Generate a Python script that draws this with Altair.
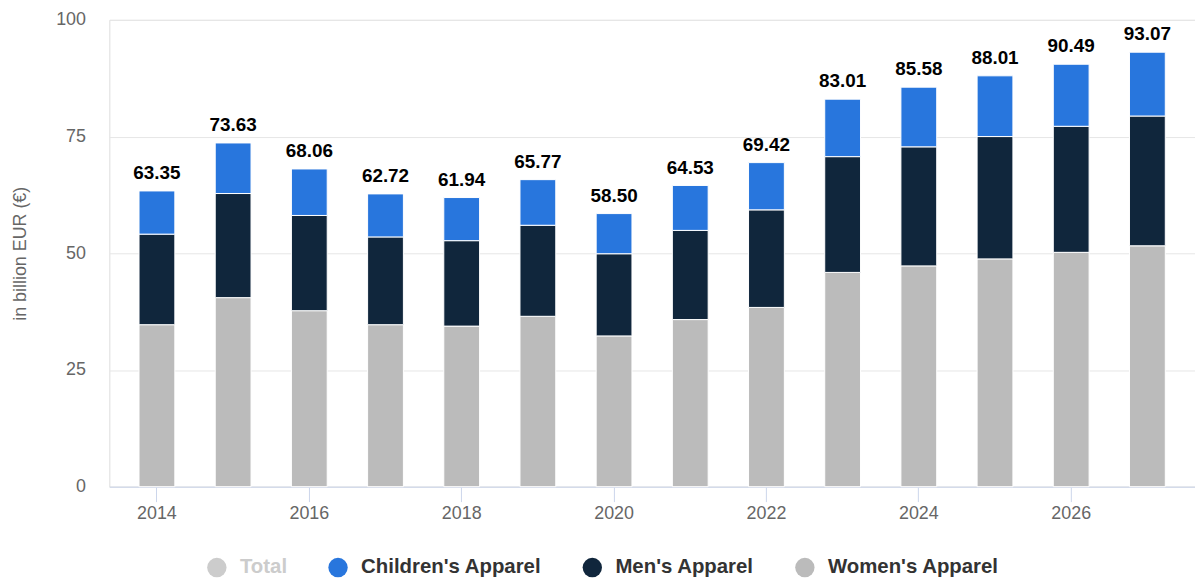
import altair as alt
import pandas as pd

years = list(range(2014, 2028))
women = [34.7, 40.5, 37.7, 34.7, 34.4, 36.5, 32.3, 35.8, 38.4, 45.9, 47.3, 48.8, 50.2, 51.6]
men = [19.4, 22.3, 20.4, 18.8, 18.3, 19.5, 17.6, 19.1, 20.9, 24.8, 25.5, 26.2, 27.0, 27.8]
children = [9.25, 10.83, 9.96, 9.22, 9.24, 9.77, 8.60, 9.63, 10.12, 12.31, 12.78, 13.01, 13.29, 13.67]
totals = [63.35, 73.63, 68.06, 62.72, 61.94, 65.77, 58.50, 64.53, 69.42, 83.01, 85.58, 88.01, 90.49, 93.07]
series = ["Total", "Children's Apparel", "Men's Apparel", "Women's Apparel"]
colors = ["#cccccc", "#2876dd", "#10263c", "#bbbbbb"]
x_ticks = [2014, 2016, 2018, 2020, 2022, 2024, 2026]
y_ticks = [0, 25, 50, 75, 100]

rows = []
for i, yr in enumerate(years):
    rows.append({"year": yr, "series": "Women's Apparel", "value": women[i], "rank": 0})
    rows.append({"year": yr, "series": "Men's Apparel", "value": men[i], "rank": 1})
    rows.append({"year": yr, "series": "Children's Apparel", "value": children[i], "rank": 2})
df = pd.DataFrame(rows)
tdf = pd.DataFrame({"year": years, "total": totals})

FONT = "Liberation Sans"

x_enc = alt.X(
    "year:O",
    title=None,
    scale=alt.Scale(paddingInner=0.53, paddingOuter=0.39),
    axis=alt.Axis(
        values=x_ticks, labelAngle=0, labelFontSize=18, labelColor="#666666",
        labelFont=FONT, tickColor="#ccd6eb", domainColor="#ccd6eb", tickSize=15,
        labelPadding=3, grid=False,
    ),
)

bars = alt.Chart(df).mark_bar(stroke="white", strokeWidth=1).encode(
    x=x_enc,
    y=alt.Y(
        "value:Q",
        stack="zero",
        scale=alt.Scale(domain=[0, 100], nice=False),
        axis=alt.Axis(
            values=y_ticks, title="in billion EUR (€)", titleColor="#666666",
            titleFontSize=18, titleFontWeight="normal", titleFont=FONT, titlePadding=26,
            labelColor="#666666", labelFontSize=18, labelFont=FONT, labelPadding=24,
            ticks=False, domain=False, gridColor="#e6e6e6",
        ),
    ),
    color=alt.Color(
        "series:N",
        scale=alt.Scale(domain=series, range=colors),
        legend=alt.Legend(
            title=None, orient="none", legendX=98, legendY=541, direction="horizontal",
            symbolType="circle", symbolSize=380, symbolStrokeWidth=0, symbolOpacity=1,
            labelFontSize=20.5, labelFontWeight="bold", labelFont=FONT,
            labelColor=alt.ExprRef("datum.label == 'Total' ? '#cccccc' : '#333333'"),
            columnPadding=41, labelOffset=13, labelLimit=400, padding=0,
        ),
    ),
    order=alt.Order("rank:Q", sort="ascending"),
)

labels = alt.Chart(tdf).mark_text(
    baseline="bottom", dy=-8, fontSize=19, fontWeight="bold", font=FONT, color="#000000"
).encode(
    x=alt.X("year:O"),
    y=alt.Y("total:Q"),
    text=alt.Text("total:Q", format=".2f"),
)

chart = alt.layer(bars, labels).properties(
    width=1093,
    height=470,
    autosize=alt.AutoSizeParams(type="none"),
    padding={"left": 102, "top": 10, "right": 0, "bottom": 92},
).configure_view(stroke=None).configure(font=FONT)

chart.save("out.html", embed_options={"renderer": "svg", "actions": False})
